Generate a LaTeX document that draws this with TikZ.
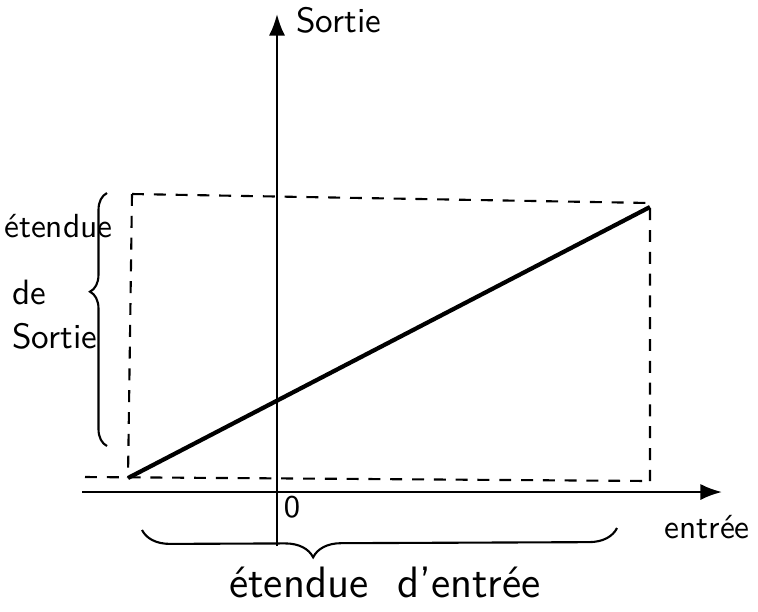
\documentclass[tikz,border=0pt]{standalone}
\usetikzlibrary{arrows.meta,decorations.pathreplacing}

\begin{document}
\begin{tikzpicture}[
            x=0.01cm, y=-0.01cm,
            >=Latex,
            font=\sffamily\fontsize{10}{12}\selectfont,
            axis/.style={->, line width=0.7pt},
            guide/.style={dashed, line width=0.6pt, dash pattern=on 3.4pt off 2.8pt},
            curve/.style={line width=1.2pt},
            brace/.style={decorate, line width=0.6pt, decoration={brace, amplitude=#1}},
            lab/.style={inner sep=1pt}
        ]
        \useasboundingbox (0,0) rectangle (758,611);

        % points
        \coordinate (xstart) at (82,492);
        \coordinate (xend) at (722,492);
        \coordinate (ybot) at (277,546);
        \coordinate (ytop) at (277,14);
        \coordinate (tl) at (132,194);
        \coordinate (tr) at (650,203);
        \coordinate (br) at (650,481);
        \coordinate (bl) at (85,477);
        \coordinate (lo) at (128,478);
        \coordinate (hi) at (650,207);

        % axes
        \draw[axis] (xstart) -- (xend);
        \draw[axis] (ybot) -- (ytop);

        % range
        \draw[guide] (tl) -- (tr) -- (br);
        \draw[guide] (bl) -- (br);
        \draw[guide] (tl) -- (lo);
        \draw[curve] (lo) -- (hi);

        % braces
        \coordinate (lb1) at (107,446);
        \coordinate (lb2) at (107,193);
        \coordinate (bb1) at (617,528);
        \coordinate (bb2) at (142,530);
        \draw[brace=0.17cm, decoration={aspect=0.61}] (lb1) -- (lb2);
        \draw[brace=0.28cm, decoration={aspect=0.64}] (bb1) -- (bb2);

        % labels
        \node[lab, anchor=west] (ylab) at (292,20) {Sortie};
        \node[lab, anchor=east, font=\sffamily\fontsize{9.5}{11}\selectfont] (xlab) at (754,527) {entrée};
        \node[lab, font=\sffamily\small] (zero) at (292,507) {0};
        \node[lab, anchor=west, font=\sffamily\fontsize{9.5}{11}\selectfont] (out1) at (0,226) {étendue};
        \node[lab, anchor=west] (out2) at (8,292) {de};
        \node[lab, anchor=west] (out3) at (8,336) {Sortie};
        \node[lab, font=\sffamily\fontsize{12.5}{15}\selectfont] (inlab) at (385,582) {étendue\ \ d'entrée};

    \end{tikzpicture}
\end{document}
